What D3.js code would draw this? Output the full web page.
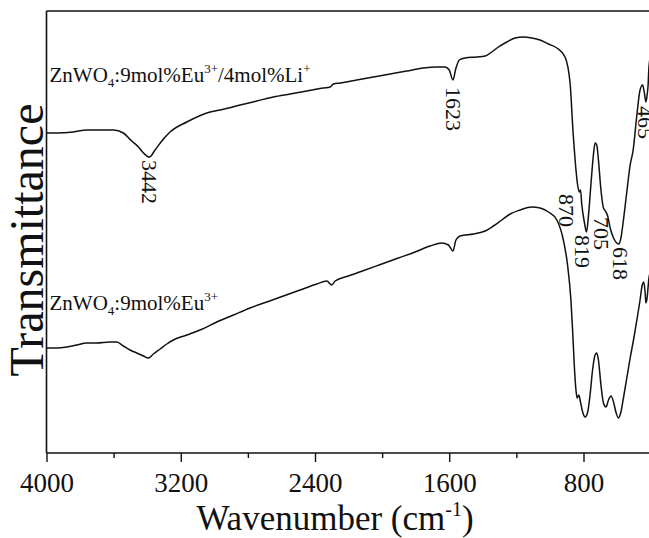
<!DOCTYPE html>
<html>
<head>
<meta charset="utf-8">
<script src="https://cdn.jsdelivr.net/npm/d3@7"></script>
<style>
  html, body { margin: 0; padding: 0; background: #fff; }
  svg { display: block; }
  svg text { font-family: "Liberation Serif", "Times New Roman", serif !important; fill: #111; }
</style>
</head>
<body>
<div id="chart"></div>
<script>
// ---- data (transmittance in arbitrary units) ----
const wnLi = [4000,3939,3840,3760,3681,3601,3542,3492,3452,3422,3387,3353,3313,3264,3164,3025,2966,2846,2747,2648,2548,2449,2350,2310,2290,2250,2151,2052,1952,1853,1754,1674,1625,1600,1578,1560,1540,1506,1436,1386,1347,1307,1257,1208,1158,1108,1059,1009,959,910,880,862,850,835,825,818,810,795,782,770,756,741,731,721,711,696,681,666,656,641,621,602,590,577,562,542,522,504,482,463,448,438,428,421,415,410,393,363];
const trLi = [320,320,321,323,323,323,320,312,306,300,296,303,312,321,331,341,343,348,352,356,359,362,365,366,369,370,373,376,379,382,385,386,386,383,373,385,393,395,396,397,401,406,411,415,416,415,413,409,405,396,370,320,293,268,261,263,248,231,221,238,268,298,310,308,293,263,245,241,237,225,215,210,209,215,233,261,288,303,338,363,368,361,351,358,368,386,403,413];

const wnEu = [4000,3939,3879,3820,3760,3701,3621,3581,3542,3502,3462,3422,3393,3363,3323,3283,3244,3164,3085,2985,2886,2787,2687,2588,2489,2390,2330,2300,2280,2201,2101,2002,1903,1803,1714,1645,1605,1578,1560,1535,1456,1386,1337,1287,1237,1178,1108,1059,1009,959,920,895,875,865,855,845,838,828,818,805,790,775,761,746,731,721,711,696,681,666,651,636,621,607,592,577,562,542,522,502,482,463,451,441,433,428,421,413,410,393,363];
const trEu = [105,105,106,108,110,110,111,111,107,103,100,97,95,99,104,109,113,118,123,131,138,145,151,157,163,169,172,168,172,177,183,189,195,201,207,210,208,202,213,217,219,222,227,233,239,243,246,245,241,233,213,188,153,123,88,63,55,58,51,41,36,41,58,83,98,100,93,68,50,46,53,57,51,41,35,41,55,75,95,113,133,153,167,171,161,150,155,170,175,185,191];

const xTicks = [4000,3200,2400,1600,800];
const xMinorTicks = [3600,2800,2000,1200,400];
const peakLabelsLi = [3442,1623,870,819,705,618,465];

// ---- layout ----
const W = 649, H = 538;
const mLeft = 46.5, mTop = 11, mBottom = 453;
const x800 = 583.5;
const x = d3.scaleLinear().domain([4000, 800]).range([mLeft, x800]);
const mRight = x(350);

const svg = d3.select("#chart").append("svg").attr("width", W).attr("height", H);
const y = d3.scaleLinear().domain([0, 442]).range([mBottom, mTop]);
const FONT = "Liberation Serif, Times New Roman, serif";

// frame
svg.append("line").attr("x1", mLeft).attr("x2", mRight).attr("y1", mTop).attr("y2", mTop)
  .attr("stroke", "#111").attr("stroke-width", 1.6);
svg.append("line").attr("x1", mLeft).attr("x2", mLeft).attr("y1", mTop).attr("y2", mBottom)
  .attr("stroke", "#111").attr("stroke-width", 1.6);

// x axis
const xAxis = d3.axisBottom(x).tickValues(xTicks).tickSize(9).tickPadding(11).tickFormat(d3.format("d"));
const gx = svg.append("g").attr("transform", `translate(0,${mBottom})`).call(xAxis);
gx.attr("font-family", FONT);
gx.select(".domain").attr("d", `M${mLeft},0H${mRight}`).attr("stroke", "#111").attr("stroke-width", 1.6);
gx.selectAll(".tick line").attr("stroke", "#111").attr("stroke-width", 1.4);
gx.selectAll(".tick text").attr("font-size", 27).attr("font-family", FONT).attr("fill", "#111");
const xMinor = d3.axisBottom(x).tickValues(xMinorTicks).tickSize(5).tickFormat("");
const gxm = svg.append("g").attr("transform", `translate(0,${mBottom})`).call(xMinor);
gxm.select(".domain").remove();
gxm.selectAll(".tick line").attr("stroke", "#111").attr("stroke-width", 1.4);

// curves
const line = d3.line().x(d => x(d[0])).y(d => y(d[1])).curve(d3.curveMonotoneX);
const dataLi = wnLi.map((w, i) => [w, trLi[i]]);
const dataEu = wnEu.map((w, i) => [w, trEu[i]]);
[dataLi, dataEu].forEach(d => {
  svg.append("path").datum(d).attr("d", line)
    .attr("fill", "none").attr("stroke", "#111").attr("stroke-width", 1.5).attr("stroke-linejoin", "round");
});

// sample labels
function sampleLabel(yBase, withLi) {
  const t = svg.append("text").attr("x", mLeft + 3).attr("y", yBase).attr("font-size", 21).attr("font-family", FONT);
  t.append("tspan").text("ZnWO");
  t.append("tspan").attr("font-size", 13).attr("dy", 5).text("4");
  t.append("tspan").attr("dy", -5).text(":9mol%Eu");
  t.append("tspan").attr("font-size", 13).attr("dy", -9).text("3+");
  if (withLi) {
    t.append("tspan").attr("dy", 9).text("/4mol%Li");
    t.append("tspan").attr("font-size", 13).attr("dy", -9).text("+");
  }
}
sampleLabel(82, true);
sampleLabel(310, false);

// peak labels (rotated, reading downward)
const peakPos = {3442: [149.5, 160], 1623: [453, 87], 870: [566, 194], 819: [582, 235], 705: [601, 217], 618: [620.5, 247], 465: [645, 106]};
peakLabelsLi.forEach(p => {
  const [cx, ty] = peakPos[p];
  svg.append("text")
    .attr("transform", `translate(${cx - 7.5},${ty}) rotate(90)`)
    .attr("font-size", 22).attr("font-family", FONT)
    .text(p);
});

// axis titles
const xt = svg.append("text").attr("x", 335).attr("y", 530).attr("text-anchor", "middle")
  .attr("font-size", 35).attr("font-family", FONT);
xt.append("tspan").text("Wavenumber (cm");
xt.append("tspan").attr("font-size", 20).attr("dy", -14).text("-1");
xt.append("tspan").attr("dy", 14).text(")");

svg.append("text")
  .attr("transform", `translate(43,240) rotate(-90)`)
  .attr("text-anchor", "middle").attr("font-size", 48).attr("font-family", FONT)
  .text("Transmittance");
</script>
</body>
</html>
